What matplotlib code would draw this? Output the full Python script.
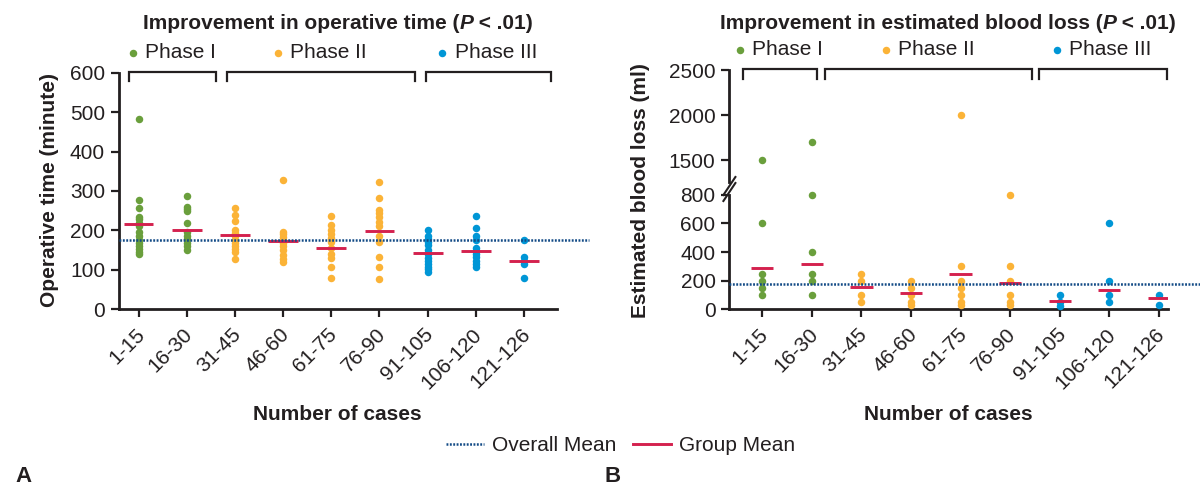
import numpy as np
import matplotlib
matplotlib.use("Agg")
import matplotlib.pyplot as plt
from matplotlib.lines import Line2D
from matplotlib.scale import FuncScale
from matplotlib.transforms import ScaledTranslation

plt.rcParams['font.family'] = ['Liberation Sans', 'DejaVu Sans']

# ---------------- data ----------------
categories = ["1-15", "16-30", "31-45", "46-60", "61-75", "76-90", "91-105", "106-120", "121-126"]
phase_of_group = [0, 0, 1, 1, 1, 1, 2, 2, 2]
phase_names = ["Phase I", "Phase II", "Phase III"]

op_time = [
    [483, 278, 258, 235, 228, 220, 212, 195, 185, 175, 168, 160, 153, 145, 139],
    [288, 259, 255, 249, 218, 195, 185, 178, 168, 160, 150],
    [258, 238, 224, 200, 193, 185, 176, 168, 160, 152, 145, 128],
    [327, 197, 190, 183, 175, 168, 160, 150, 138, 128, 120],
    [237, 215, 200, 190, 180, 170, 155, 140, 130, 108, 80],
    [322, 283, 253, 243, 233, 222, 211, 186, 170, 133, 108, 78],
    [200, 187, 178, 170, 162, 150, 140, 130, 122, 115, 108, 102, 95],
    [237, 207, 185, 175, 155, 148, 140, 132, 122, 115, 108],
    [177, 133, 122, 115, 80],
]
op_group_mean = [217, 200, 188, 172, 156, 198, 143, 149, 123]
op_overall_mean = 175

ebl = [
    [1500, 600, 250, 200, 150, 100],
    [1700, 800, 400, 250, 200, 100],
    [250, 200, 100, 50],
    [200, 150, 100, 50, 30],
    [2000, 300, 200, 150, 100, 50, 30],
    [800, 300, 200, 100, 50, 30],
    [100, 50, 20],
    [600, 200, 100, 50],
    [100, 30],
]
ebl_group_mean = [290, 318, 153, 116, 244, 186, 56, 137, 81]
ebl_overall_mean = 178

op_yticks = [0, 100, 200, 300, 400, 500, 600]
ebl_yticks = [0, 200, 400, 600, 800, 1500, 2000, 2500]

# ---------------- style ----------------
phase_colors = ["#6a9f3c", "#fbb337", "#0096d6"]
red = "#d4214e"
navy = "#134b86"
ink = "#231f20"
FS = 15
W, H = 1200, 487

fig = plt.figure(figsize=(W / 100, H / 100), dpi=100)


def fx(px):
    return px / W


def fy(py):
    return 1 - py / H


ax1 = fig.add_axes([fx(119), fy(309.3), (556.8 - 119) / W, (309.3 - 72.7) / H])
ax2 = fig.add_axes([fx(729.4), fy(309.3), (1168.3 - 729.4) / W, (309.3 - 70) / H])


# broken scale for blood loss
def fwd(y):
    y = np.asarray(y, dtype=float)
    return np.where(y <= 800, y,
                    np.where(y <= 1500, 800 + (y - 800) * (240 / 700), 1040 + (y - 1500) * 0.632))


def inv(t):
    t = np.asarray(t, dtype=float)
    return np.where(t <= 800, t,
                    np.where(t <= 1040, 800 + (t - 800) * (700 / 240), 1500 + (t - 1040) / 0.632))


ax2.set_yscale(FuncScale(ax2, (fwd, inv)))

x = np.arange(len(categories))

for ax, data, gmean, omean, yticks, ylim, xlim, half, x_end in [
    (ax1, op_time, op_group_mean, op_overall_mean, op_yticks, (0, 600), (-0.405, 8.68), 0.31, 9.35),
    (ax2, ebl, ebl_group_mean, ebl_overall_mean, ebl_yticks, (0, 2500), (-0.664, 8.19), 0.225, 8.84),
]:
    for i, vals in enumerate(data):
        ax.plot(np.full(len(vals), x[i]), vals, 'o', ms=5.4, mec='none',
                color=phase_colors[phase_of_group[i]], clip_on=False, zorder=3)
    for i, m in enumerate(gmean):
        ax.plot([x[i] - half, x[i] + half], [m, m], color=red, lw=2.1, solid_capstyle='butt', zorder=4)
    ax.plot([xlim[0], x_end], [omean, omean], color=navy, lw=1.8, linestyle=(0, (0.75, 0.6)),
            clip_on=False, zorder=5)
    ax.set_xlim(*xlim)
    ax.set_ylim(*ylim)
    ax.set_yticks(yticks)
    ax.set_yticklabels([str(t) for t in yticks])
    ax.set_xticks(x)
    ax.set_xticklabels(categories, rotation=45, ha='right', va='center', rotation_mode='anchor')
    for s in ['top', 'right']:
        ax.spines[s].set_visible(False)
    for s in ['left', 'bottom']:
        ax.spines[s].set_linewidth(2.0)
        ax.spines[s].set_color(ink)
    ax.tick_params(axis='y', length=6, width=1.6, pad=4, labelsize=FS, colors=ink)
    ax.tick_params(axis='x', length=5.5, width=1.6, pad=10.5, labelsize=FS, colors=ink)
    for lab in ax.get_xticklabels():
        lab.set_transform(lab.get_transform() + ScaledTranslation(3 / 100, 0, fig.dpi_scale_trans))
    ax.patch.set_alpha(0)

# brackets over phases
brackets = {
    ax1: ([(-0.19, 1.61), (1.84, 5.74), (5.96, 8.56)], 1.0017, 9 / 236.6),
    ax2: ([(-0.38, 1.10), (1.27, 5.44), (5.59, 8.16)], 1.003, 9.4 / 239.3),
}
for ax, (spans, ytop, tip) in brackets.items():
    tr = ax.get_xaxis_transform()
    for a, b in spans:
        ax.plot([a, a, b, b], [ytop - tip, ytop, ytop, ytop - tip], color=ink, lw=1.6,
                transform=tr, clip_on=False, solid_joinstyle='miter')

# phase legends above brackets (figure pixel positions)
phase_label_pos = [
    ([132.8, 278.2, 442.4], [144.7, 290, 454.6], 52.5),
    ([740, 885.5, 1057], [752.3, 897.7, 1069.2], 49.8),
]
for dots, texts, yy in phase_label_pos:
    for k in range(3):
        fig.add_artist(Line2D([fx(dots[k])], [fy(yy)], marker='o', ms=5.4, mec='none',
                              color=phase_colors[k], transform=fig.transFigure))
        fig.text(fx(texts[k]), fy(yy), phase_names[k], fontsize=FS, color=ink, ha='left', va='center')

# break mark on blood-loss axis
ybr = (309.3 - 189) / 239.3
tr = ax2.transAxes
dxa = 6 / 439
dya = 9 / 239.3
gap = 6 / 239.3
ax2.plot([0, 0], [ybr - gap / 2, ybr + gap / 2], color='white', lw=3, transform=tr, clip_on=False, zorder=6)
for off in (-gap / 2, gap / 2):
    ax2.plot([-dxa, dxa], [ybr + off - dya, ybr + off + dya], color=ink, lw=1.5,
             transform=tr, clip_on=False, zorder=7)


# titles with bold italic P
def title_pieces(center_px, base_py, first):
    t1 = fig.text(0, fy(base_py), first, fontsize=FS, fontweight='bold', color=ink,
                  ha='left', va='baseline')
    t2 = fig.text(0, 0, "P", fontsize=FS, fontweight='bold', fontstyle='italic', color=ink)
    t3 = fig.text(0, 0, " < .01)", fontsize=FS, fontweight='bold', color=ink)
    return [t1, t2, t3], center_px, base_py


titles = [title_pieces(337.7, 29, "Improvement in operative time ("),
          title_pieces(948.0, 29, "Improvement in estimated blood loss (")]
fig.canvas.draw()
r = fig.canvas.get_renderer()
for pieces, cpx, bpy in titles:
    widths = [p.get_window_extent(r).width for p in pieces]
    total = sum(widths)
    x0 = cpx - total / 2
    for p, w in zip(pieces, widths):
        p.set_position((fx(x0), fy(bpy)))
        p.set_ha('left')
        p.set_va('baseline')
        x0 += w

# axis labels
fig.text(fx(50), fy(190), "Operative time (minute)", rotation=90, fontsize=FS, fontweight='bold',
         color=ink, ha='center', va='center')
fig.text(fx(641), fy(190.8), "Estimated blood loss (ml)", rotation=90, fontsize=FS, fontweight='bold',
         color=ink, ha='center', va='center')
fig.text(fx(337.7), fy(415), "Number of cases", fontsize=FS, fontweight='bold', color=ink,
         ha='center', va='center')
fig.text(fx(948), fy(415), "Number of cases", fontsize=FS, fontweight='bold', color=ink,
         ha='center', va='center')

# legend
handles = [Line2D([], [], color=navy, lw=1.8, linestyle=(0, (0.75, 0.6))),
           Line2D([], [], color=red, lw=2.1)]
fig.legend(handles, ["Overall Mean", "Group Mean"], loc='center',
           bbox_to_anchor=(fx(620.5), fy(445.7)), ncol=2, frameon=False, fontsize=FS,
           handlelength=1.83, handletextpad=0.38, columnspacing=0.77, borderpad=0, borderaxespad=0,
           labelcolor=ink)

fig.text(fx(15), fy(486.5), "A", fontsize=16, fontweight='bold', color=ink, ha='left', va='bottom')
fig.text(fx(605), fy(486.5), "B", fontsize=16, fontweight='bold', color=ink, ha='left', va='bottom')

fig.savefig("out.png", dpi=100)
